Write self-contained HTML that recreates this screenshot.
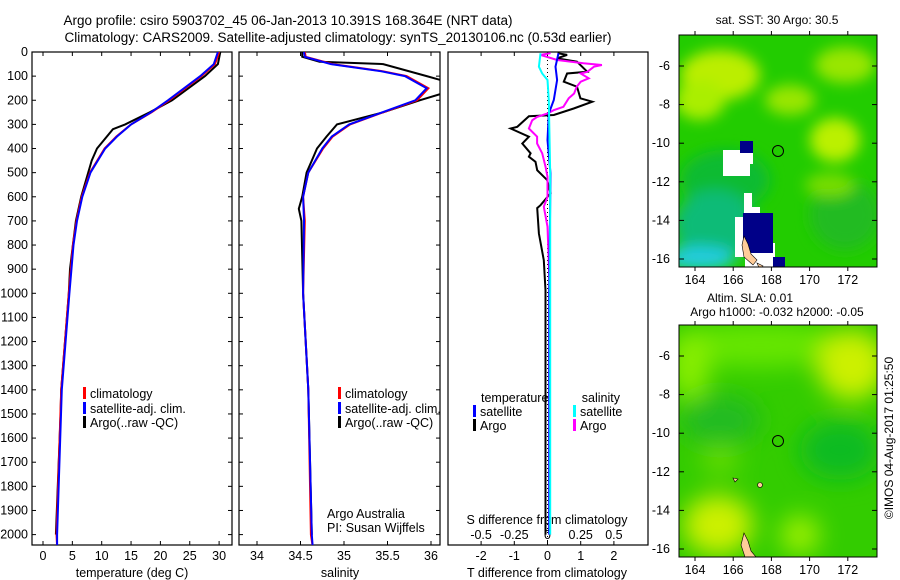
<!DOCTYPE html>
<html><head><meta charset="utf-8"><style>
body{margin:0;background:#fff}
svg{display:block;font-family:"Liberation Sans",sans-serif}
</style></head><body>
<svg id="fig" width="900" height="580" viewBox="0 0 900 580">
<defs>
<filter id="blur" x="-20%" y="-20%" width="140%" height="140%"><feGaussianBlur stdDeviation="7"/></filter>
<filter id="blur2" x="-20%" y="-20%" width="140%" height="140%"><feGaussianBlur stdDeviation="12"/></filter>
<clipPath id="c1"><rect x="32" y="52" width="200" height="493"/></clipPath>
<clipPath id="c2"><rect x="239" y="52" width="201" height="493"/></clipPath>
<clipPath id="c3"><rect x="448" y="52" width="200" height="493"/></clipPath>
<clipPath id="m1"><rect x="679" y="35" width="198" height="232"/></clipPath>
<clipPath id="m2"><rect x="679" y="325" width="198" height="232"/></clipPath>
</defs>
<g font-size="13.5" text-anchor="middle" fill="#000">
<text x="288" y="25">Argo profile: csiro 5903702_45 06-Jan-2013 10.391S 168.364E (NRT data)</text>
<text x="338" y="42">Climatology: CARS2009. Satellite-adjusted climatology: synTS_20130106.nc (0.53d earlier)</text>
</g>
<g id="panels"></g>
<!-- top map -->
<g>
<g clip-path="url(#m1)">
<rect x="679" y="35" width="198" height="232" fill="#22cc00"/>
<g filter="url(#blur)">
<ellipse cx="720" cy="75" rx="40" ry="25" fill="#bbee00"/>
<ellipse cx="700" cy="100" rx="25" ry="20" fill="#aaee00"/>
<ellipse cx="790" cy="100" rx="25" ry="15" fill="#99e600"/>
<ellipse cx="845" cy="65" rx="30" ry="18" fill="#99e600"/>
<ellipse cx="835" cy="140" rx="25" ry="22" fill="#bbf000"/>
<ellipse cx="725" cy="180" rx="45" ry="30" fill="#11bb33"/>
<ellipse cx="715" cy="225" rx="40" ry="35" fill="#11bb77"/>
<ellipse cx="700" cy="258" rx="35" ry="12" fill="#22ccdd"/>
<ellipse cx="845" cy="215" rx="35" ry="35" fill="#22bb22"/>
<ellipse cx="830" cy="185" rx="25" ry="12" fill="#77dd00"/>
</g>
<path d="M723 150h17v-9h13v23h-3v12h-27z" fill="#fff"/>
<rect x="740" y="141" width="13" height="12" fill="#000088"/>
<path d="M744 193h8v14h8v20h8v16h7v24h-30v-10h-10v-40h9z" fill="#fff"/>
<rect x="743" y="213" width="30" height="40" fill="#000088"/>
<rect x="773" y="257" width="12" height="10" fill="#000088"/>
<path d="M744 236l4 8 3 10 6 6-4 5-9-8-2-12z" fill="#ffcc99" stroke="#000" stroke-width="0.6"/>
<path d="M757 263l6 3-3 4z" fill="#ffcc99" stroke="#000" stroke-width="0.6"/>
</g>
<circle cx="778" cy="151" r="5.5" fill="none" stroke="#000" stroke-width="1"/>
<rect x="679" y="35" width="198" height="232" fill="none" stroke="#000" stroke-width="1"/>
</g>
<!-- bottom map -->
<g>
<g clip-path="url(#m2)">
<rect x="679" y="325" width="198" height="232" fill="#33cc00"/>
<g filter="url(#blur2)">
<ellipse cx="760" cy="345" rx="90" ry="22" fill="#66e600"/>
<ellipse cx="690" cy="365" rx="20" ry="35" fill="#88ee00"/>
<ellipse cx="852" cy="365" rx="35" ry="35" fill="#ccf000"/>
<ellipse cx="720" cy="460" rx="20" ry="14" fill="#66dd00"/>
<ellipse cx="718" cy="525" rx="35" ry="30" fill="#ccf000"/>
<ellipse cx="800" cy="535" rx="20" ry="20" fill="#99ee00"/>
<ellipse cx="720" cy="420" rx="40" ry="25" fill="#22bb22"/>
<ellipse cx="840" cy="450" rx="40" ry="30" fill="#11bb22"/>
</g>
<path d="M744 533l4 8 3 10 5 6H745l-4-12z" fill="#ffcc99" stroke="#000" stroke-width="0.6"/>
<circle cx="760" cy="485" r="2.5" fill="#ffcc99" stroke="#000" stroke-width="0.6"/>
<path d="M733 478l5 1-3 3z" fill="#ffcc99" stroke="#000" stroke-width="0.6"/>
</g>
<circle cx="778" cy="441" r="5.5" fill="none" stroke="#000" stroke-width="1"/>
<rect x="679" y="325" width="198" height="232" fill="none" stroke="#000" stroke-width="1"/>
</g>
<g id="maptext" font-size="12" fill="#000"></g>
<g font-size="12" text-anchor="middle">
<text x="777" y="24">sat. SST: 30 Argo: 30.5</text>
<text x="750" y="302">Altim. SLA: 0.01</text>
<text x="777" y="316">Argo h1000: -0.032 h2000: -0.05</text>
<text transform="translate(893,438) rotate(-90)">©IMOS 04-Aug-2017 01:25:50</text>
</g>
</svg>
<script>
// ---- data ----
const tArgoDepth = [0,50,100,200,250,300,320,400,450,500,600,700,800,900,1000,1400,1500,2000];
const tArgoVal = [30.2,29.8,27.6,22,18.2,14,11.9,9.2,8.3,7.7,6.5,5.6,5.1,4.6,4.4,3.1,3.0,2.2];
const tClimDepth = [0,50,100,200,250,300,350,400,500,600,700,800,1000,1400,2000,2050];
const tClimVal = [30,29.3,27,21.5,18.5,15,12.5,10.5,8,6.6,5.7,5.1,4.4,3.1,2.3,2.4];
const tSatVal = [29.8,29.1,26.8,21.3,18.4,15,12.6,10.6,8.1,6.7,5.8,5.2,4.5,3.2,2.4,2.4];
const sArgoDepth = [0,20,40,50,100,120,170,200,250,300,350,400,450,500,600,650,700,1000,1400,2000];
const sArgoVal = [34.52,34.52,34.72,35.45,35.95,36.15,36.15,35.87,35.45,34.92,34.80,34.69,34.63,34.57,34.52,34.48,34.51,34.53,34.59,34.63];
const sClimDepth = [0,20,50,80,100,150,200,250,300,350,400,500,600,700,1000,1400,2000,2050];
const sClimVal = [34.55,34.56,34.87,35.45,35.72,35.97,35.84,35.45,35.07,34.87,34.76,34.59,34.53,34.55,34.53,34.59,34.62,34.64];
const sSatVal = [34.54,34.55,34.85,35.43,35.70,35.95,35.82,35.44,35.06,34.86,34.75,34.59,34.53,34.54,34.53,34.59,34.63,34.64];
const dTArgoDepth = [5,12,26,40,82,89,123,144,192,206,234,261,266,310,317,351,379,420,434,455,490,531,586,635,647,752,863,987,1500,2000];
const dTArgoVal = [0.3,0.59,0.29,0.89,1.2,0.59,0.49,0.89,0.99,1.35,0.79,0.19,-0.56,-0.91,-1.11,-0.56,-0.76,-0.51,-0.56,-0.36,-0.31,-0.01,0.09,-0.21,-0.31,-0.26,-0.11,-0.06,-0.06,-0.06];
const dTSatDepth = [5,61,116,199,255,365,503,1000,2000];
const dTSatVal = [0.33,0.24,0.29,0.19,0.04,0,0.09,0.05,0.05];
const dSArgoDepth = [5,12,33,47,54,61,82,89,109,123,144,172,192,227,241,255,269,283,317,351,379,420,475,517,600,641,724,987,2000];
const dSArgoVal = [0.023,-0.053,0.073,0.27,0.41,0.35,0.30,0.25,0.31,0.25,0.22,0.20,0.16,0.12,0.047,0,-0.078,-0.115,-0.14,-0.078,-0.078,-0.04,-0.015,0,0,-0.028,0,0.017,0.017];
const dSSatDepth = [5,61,89,116,199,503,2000];
const dSSatVal = [-0.053,-0.065,-0.04,0,0.01,0.02,0.02];
const depthTicks = [0,100,200,300,400,500,600,700,800,900,1000,1100,1200,1300,1400,1500,1600,1700,1800,1900,2000];
const tempTicks = [0,5,10,15,20,25,30];
const salTicks = [34,34.5,35,35.5,36];
const dTTicks = [-2,-1,0,1,2];
const dSTicks = [-0.5,-0.25,0,0.25,0.5];
const lonTicks = [164,166,168,170,172];
const latTicks = [-6,-8,-10,-12,-14,-16];

// ---- scales ----
const yD = d => 52 + d*0.2413;
const xT = t => 43 + t*5.87;
const xS = s => 257 + (s-34)*87;
const xDT = t => 547.5 + t*33.2;
const xDS = s => 547.5 + s*4*33.2;
const xLon = l => 695 + (l-164)*19.1;
const yLat = (la,top) => top + 31 + (-6-la)*19.3;

const NS = 'http://www.w3.org/2000/svg';
const root = document.getElementById('panels');
function mk(tag, attrs, parent){ const e=document.createElementNS(NS,tag); for(const k in attrs) e.setAttribute(k,attrs[k]); (parent||root).appendChild(e); return e; }
function line(xs, ds, vals, fx, color, clip, name, w){
  const pts = ds.map((d,i)=>fx(vals[i]).toFixed(1)+','+yD(d).toFixed(1)).join(' ');
  const p = mk('polyline',{points:pts,fill:'none',stroke:color,'stroke-width':w||2,'clip-path':'url(#'+clip+')'});
  
  
}
function txt(x,y,s,anchor,size,name,parent){
  const t = mk('text',{x:x,y:y,'text-anchor':anchor||'middle','font-size':size||12},parent);
  t.textContent = s;
  
  
  return t;
}
const frames = [[32,232,'temperature-panel'],[239,440,'salinity-panel'],[448,648,'difference-panel']];
frames.forEach(f=>{
  const r = mk('rect',{x:f[0],y:52,width:f[1]-f[0],height:493,fill:'none',stroke:'#000','stroke-width':1.2});
  
  
});
depthTicks.forEach(d=>{
  txt(28,yD(d)+4,String(d),'end',12.5,'depth-tick-label');
  [[32,36],[228,232],[239,243],[436,440]].forEach(a=>mk('line',{x1:a[0],x2:a[1],y1:yD(d),y2:yD(d),stroke:'#000'}));
});
tempTicks.forEach(t=>{
  txt(xT(t),560,String(t),'middle',12.5,'temp-tick-label');
  mk('line',{x1:xT(t),x2:xT(t),y1:541,y2:545,stroke:'#000'});
  mk('line',{x1:xT(t),x2:xT(t),y1:52,y2:56,stroke:'#000'});
});
salTicks.forEach(s=>{
  txt(xS(s),560,String(s),'middle',12.5,'salinity-tick-label');
  mk('line',{x1:xS(s),x2:xS(s),y1:541,y2:545,stroke:'#000'});
  mk('line',{x1:xS(s),x2:xS(s),y1:52,y2:56,stroke:'#000'});
});
dTTicks.forEach(t=>{
  txt(xDT(t),560,String(t),'middle',12.5,'t-diff-tick-label');
  mk('line',{x1:xDT(t),x2:xDT(t),y1:541,y2:545,stroke:'#000'});
  mk('line',{x1:xDT(t),x2:xDT(t),y1:52,y2:56,stroke:'#000'});
});
dSTicks.forEach(s=>{
  txt(xDS(s),539,String(s),'middle',12.5,'s-diff-tick-label');
});
txt(132,577,'temperature (deg C)','middle',12.5,'temperature-axis-title');
txt(340,577,'salinity','middle',12.5,'salinity-axis-title');
txt(547,577,'T difference from climatology','middle',12.5,'t-diff-axis-title');
txt(547,524,'S difference from climatology','middle',12.5,'s-diff-axis-title');
const z = mk('line',{x1:xDT(0),x2:xDT(0),y1:52,y2:545,stroke:'#000','stroke-dasharray':'1,3'});


line(0,tArgoDepth,tArgoVal,xT,'#000','c1','temp-argo-line');
line(0,tClimDepth,tClimVal,xT,'#f00','c1','temp-climatology-line');
line(0,tClimDepth,tSatVal,xT,'#00f','c1','temp-satellite-line');
line(0,sArgoDepth,sArgoVal,xS,'#000','c2','salinity-argo-line');
line(0,sClimDepth,sClimVal,xS,'#f00','c2','salinity-climatology-line');
line(0,sClimDepth,sSatVal,xS,'#00f','c2','salinity-satellite-line');
line(0,dTArgoDepth,dTArgoVal,xDT,'#000','c3','t-diff-argo-line');
line(0,dSArgoDepth,dSArgoVal,xDS,'#f0f','c3','s-diff-argo-line');
line(0,dTSatDepth,dTSatVal,xDT,'#00f','c3','t-diff-satellite-line');
line(0,dSSatDepth,dSSatVal,xDS,'#0ff','c3','s-diff-satellite-line');
function leg(x,y,color,label,name){
  mk('rect',{x:x,y:y-11,width:3,height:12,fill:color});
  txt(x+7,y,label,'start',12.5,name);
}
[[398,'#f00','climatology'],[413,'#00f','satellite-adj. clim.'],[427,'#000','Argo(..raw -QC)']].forEach(a=>{
  leg(83,a[0],a[1],a[2],'temp-legend-entry');
  leg(338,a[0],a[1],a[2],'salinity-legend-entry');
});
txt(481,402,'temperature','start',12.5,'legend-temperature-header');
txt(620,402,'salinity','end',12.5,'legend-salinity-header');
leg(473,416,'#00f','satellite','legend-t-satellite');
leg(473,430,'#000','Argo','legend-t-argo');
leg(573,416,'#0ff','satellite','legend-s-satellite');
leg(573,430,'#f0f','Argo','legend-s-argo');
txt(327,518,'Argo Australia','start',12.5,'credit-argo-australia');
txt(327,532,'PI: Susan Wijffels','start',12.5,'credit-pi');
const mt = document.getElementById('maptext');
[35,325].forEach(top=>{
  latTicks.forEach(la=>{
    const y=yLat(la,top);
    txt(670,y+4,String(la),'end',12.5,'map-lat-label',mt);
    mk('line',{x1:679,x2:684,y1:y,y2:y,stroke:'#000'},mt);
    mk('line',{x1:872,x2:877,y1:y,y2:y,stroke:'#000'},mt);
  });
  lonTicks.forEach(l=>{
    const x=xLon(l);
    txt(x,top+249,String(l),'middle',12.5,'map-lon-label',mt);
    mk('line',{x1:x,x2:x,y1:top,y2:top-4,stroke:'#000'},mt);
    mk('line',{x1:x,x2:x,y1:top+232,y2:top+236,stroke:'#000'},mt);
  });
});
</script>
</body></html>
